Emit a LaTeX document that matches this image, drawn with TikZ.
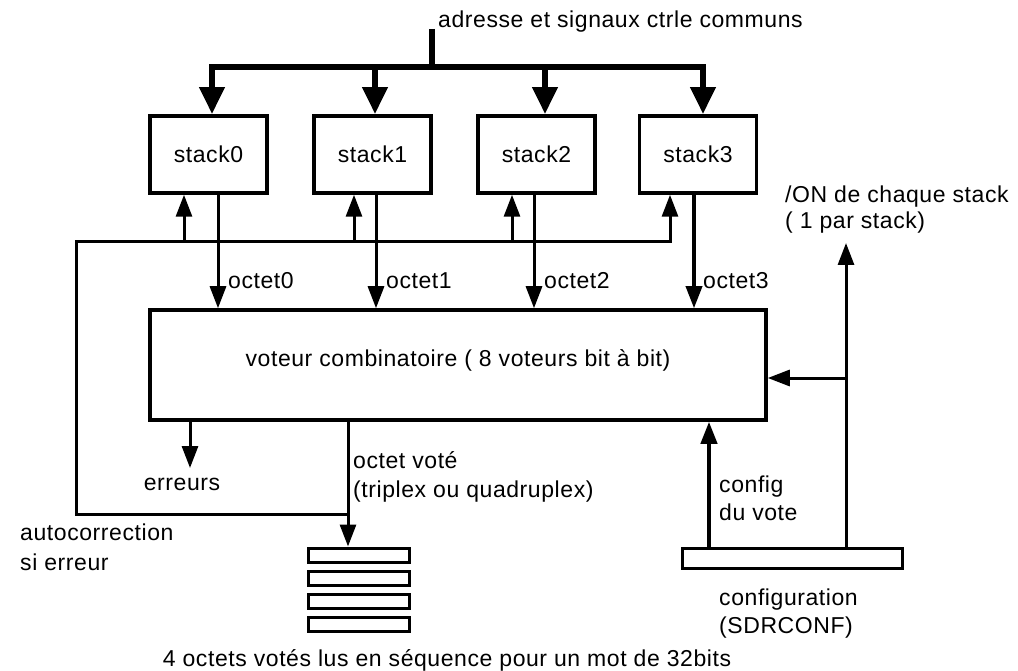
\documentclass[tikz,border=0pt]{standalone}
\usepackage{fontspec}
\setmainfont{Liberation Sans}[LetterSpace=2.5]
\usetikzlibrary{arrows.meta}
\begin{document}
\begin{tikzpicture}[x=1pt,y=-1pt,
  every node/.style={font=\fontsize{23}{28}\selectfont},
  box/.style={draw,line width=3.5pt,inner sep=0pt},
  stackbox/.style={box,minimum width=117pt,minimum height=77pt},
  reg/.style={draw,line width=3pt,inner sep=0pt,minimum width=101pt,minimum height=14pt},
  wire/.style={line width=3pt},
  sarrow/.style={wire,-{Triangle[width=16pt,length=22pt]}},
  bus/.style={line width=6.5pt},
  busarrow/.style={bus,-{Triangle[width=24pt,length=27pt]}},
  lbl/.style={anchor=base west,inner sep=0pt},
]
\useasboundingbox (0,0) rectangle (1018,671);
% stacks
\node[stackbox] (s0) at (208.5,154.5) {stack0};
\node[stackbox] (s1) at (372.5,154.5) {stack1};
\node[stackbox] (s2) at (536.5,154.5) {stack2};
\node[stackbox] (s3) at (698,154.5) {stack3};
% voter
\node[box,minimum width=616pt,minimum height=110pt] (vot) at (458,365) {};
\node[inner sep=0pt,anchor=base] (votl) at (458,366) {voteur combinatoire ( 8 voteurs bit à bit)};
% config register
\node[reg,minimum width=220pt,minimum height=20pt] (conf) at (792,558) {};
% result registers
\node[reg] (r0) at (358.5,555) {};
\node[reg] (r1) at (358.5,578) {};
\node[reg] (r2) at (358.5,601) {};
\node[reg] (r3) at (358.5,624) {};
% bus
\coordinate (bustop) at (432,29);
\draw[bus] (bustop) -- (432,67);
\draw[bus,{Triangle[width=24pt,length=27pt]}-{Triangle[width=24pt,length=27pt]},line join=miter]
  (212,0 |- s0.north) |- (703,67) -- (703,0 |- s3.north);
\draw[busarrow] (375,67) -- (375,0 |- s1.north);
\draw[busarrow] (545,67) -- (545,0 |- s2.north);
\node[lbl] (busl) at (438,28) {adresse et signaux ctrle communs};
% octet arrows
\draw[sarrow] (218,0 |- s0.south) -- (218,0 |- vot.north);
\draw[sarrow] (376,0 |- s1.south) -- (376,0 |- vot.north);
\draw[sarrow] (534,0 |- s2.south) -- (534,0 |- vot.north);
\draw[sarrow,line width=3.5pt] (694,0 |- s3.south) -- (694,0 |- vot.north);
\node[lbl] (o0) at (228,288) {octet0};
\node[lbl] (o1) at (386,288) {octet1};
\node[lbl] (o2) at (544,288) {octet2};
\node[lbl] (o3) at (703,288) {octet3};
% autocorrection loop
\coordinate (ac) at (348,514);
\draw[wire,line join=miter,-{Triangle[width=16pt,length=22pt]}] (ac) -| (76,242) -| (670,0 |- s3.south);
\draw[sarrow] (184,242) -- (184,0 |- s0.south);
\draw[sarrow] (354,242) -- (354,0 |- s1.south);
\draw[sarrow] (512,242) -- (512,0 |- s2.south);
\node[lbl] (acl1) at (20,540) {autocorrection};
\node[lbl] (acl2) at (20,570) {si erreur};
% erreurs
\coordinate (err) at (190,468);
\draw[sarrow] (190,0 |- vot.south) -- (err);
\node[inner sep=0pt,anchor=base] (errl) at (182,490) {erreurs};
% octet vote
\draw[sarrow] (348,0 |- vot.south) -- (348,0 |- r0.north);
\node[lbl] (ovl1) at (353,468) {octet voté};
\node[lbl] (ovl2) at (353,497) {(triplex ou quadruplex)};
% config du vote
\draw[sarrow,line width=4pt] (709,0 |- conf.north) -- (709,0 |- vot.south);
\node[lbl] (cvl1) at (719,492) {config};
\node[lbl] (cvl2) at (719,520) {du vote};
% /ON
\coordinate (on) at (846,243);
\draw[sarrow] (846,0 |- conf.north) -- (on);
\draw[sarrow] (846,378) -- (vot.east |- 0,378);
\node[lbl] (onl1) at (785,203) {/ON de chaque stack};
\node[lbl] (onl2) at (785,229) {( 1 par stack)};
\node[lbl] (confl1) at (719,605) {configuration};
\node[lbl] (confl2) at (719,633) {(SDRCONF)};
% bottom caption
\node[inner sep=0pt,anchor=base] (cap) at (447,666) {4 octets votés lus en séquence pour un mot de 32bits};
\end{tikzpicture}
\end{document}
